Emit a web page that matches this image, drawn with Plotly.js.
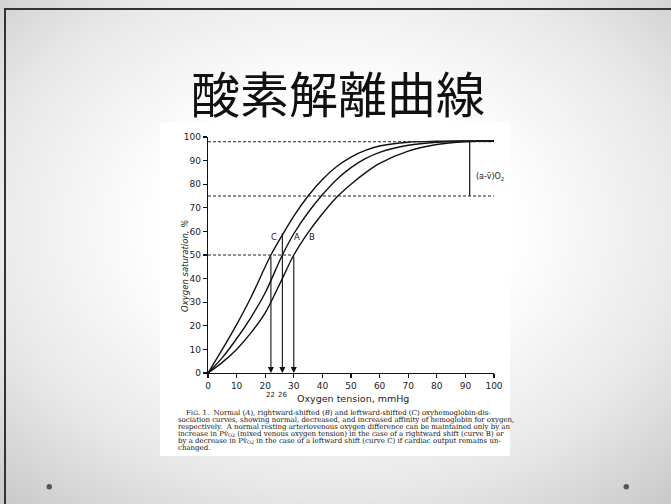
<!DOCTYPE html>
<html>
<head>
<meta charset="utf-8">
<script src="https://cdn.plot.ly/plotly-3.0.1.min.js"></script>
<style>
  html, body { margin: 0; padding: 0; }
  body {
    width: 671px; height: 504px; overflow: hidden; position: relative;
    background: radial-gradient(ellipse 75% 75% at 50% 45%, #ffffff 35%, #e8e8e8 70%, #c8c8c8 100%);
  }
  #frame {
    position: absolute; left: 4px; top: 8px; width: 700px; height: 520px;
    border-left: 2px solid #333; border-top: 2px solid #333; box-sizing: border-box;
  }
  #chart { position: absolute; left: 0; top: 0; width: 671px; height: 504px; }
</style>
</head>
<body>
<div id="frame"></div>
<div id="chart"></div>
<script>
// ---- data ----
const titleText = '酸素解離曲線';
const xTicks = [0, 10, 20, 30, 40, 50, 60, 70, 80, 90, 100];
const yTicks = [0, 10, 20, 30, 40, 50, 60, 70, 80, 90, 100];

const curveC_x = [0, 5, 10, 15, 20, 22, 26, 30, 35, 40, 45, 50, 55, 60, 70, 80, 90, 100];
const curveC_y = [0, 10, 20.5, 32, 45, 50, 58.5, 66.5, 75, 82, 87.5, 91.5, 94.3, 96.2, 97.8, 98.2, 98.3, 98.3];

const curveA_x = [0, 5, 10, 15, 20, 26, 30, 35, 40, 45, 50, 55, 60, 70, 80, 90, 100];
const curveA_y = [0, 6.5, 14.5, 23.5, 34, 50, 59, 68, 75.5, 82, 87, 90.8, 93.5, 96.5, 97.8, 98.2, 98.3];

const curveB_x = [0, 5, 10, 15, 20, 25, 30, 35, 40, 45, 50, 55, 60, 70, 80, 90, 100];
const curveB_y = [0, 4.5, 10, 17, 25.5, 37.5, 50, 59.5, 67.5, 74.5, 80, 84.8, 88.8, 94, 96.8, 98, 98.3];

const curveLabels = ['C', 'A', 'B'];
const labelX = [23, 31, 36.3];
const labelY = [57.7, 57.7, 57.7];

const p50Values = [22, 26, 30];          // arrows down to the axis
const p50ArrowTop = [50, 60, 50];        // where each vertical arrow starts
const p50Labels = ['22', '26'];

const arterialSat = 98;                  // upper dashed line
const venousSat = 75;                    // lower dashed line
const halfSat = 50;                      // P50 dashed line
const dashedEndX = 101;
const avDiffX = 91.5;
const avDiffLabel = '(a-v\u0304)O<sub>2</sub>';

const xTitle = 'Oxygen tension, mmHg';
const yTitle = '<i>Oxygen saturation, %</i>';

const captionLines = [
  'F<span style="font-size:6px">IG</span>. 1.  Normal (<i>A</i>), rightward-shifted (<i>B</i>) and leftward-shifted (<i>C</i>) oxyhemoglobin-dis-',
  'sociation curves, showing normal, decreased, and increased affinity of hemoglobin for oxygen,',
  'respectively.  A normal resting arteriovenous oxygen difference can be maintained only by an',
  'increase in Pv\u0304<sub>O2</sub> (mixed venous oxygen tension) in the case of a rightward shift (curve B) or',
  'by a decrease in Pv\u0304<sub>O2</sub> in the case of a leftward shift (curve C) if cardiac output remains un-',
  'changed.'
];

// ---- layout geometry (pixels of the 671x504 canvas) ----
const L = 208, T = 137, W = 286, H = 236, B = T + H;
const px2x = px => (px - L) / W;
const py2y = py => (B - py) / H;

const lineStyle = {color: '#111', width: 1.4, shape: 'spline', smoothing: 0.9};
const traces = [
  {x: curveC_x, y: curveC_y, mode: 'lines', line: lineStyle, hoverinfo: 'skip'},
  {x: curveA_x, y: curveA_y, mode: 'lines', line: lineStyle, hoverinfo: 'skip'},
  {x: curveB_x, y: curveB_y, mode: 'lines', line: lineStyle, hoverinfo: 'skip'}
];

const dash = {color: '#222', width: 1.1, dash: '3px,2px'};
const shapes = [
  // white scanned figure
  {type: 'rect', xref: 'paper', yref: 'paper', layer: 'below',
   x0: px2x(160), x1: px2x(510), y0: py2y(456), y1: py2y(123),
   fillcolor: '#ffffff', line: {width: 0}},
  {type: 'line', xref: 'x', yref: 'y', x0: 0, x1: dashedEndX, y0: arterialSat, y1: arterialSat, line: dash},
  {type: 'line', xref: 'x', yref: 'y', x0: 0, x1: dashedEndX, y0: venousSat, y1: venousSat, line: dash},
  {type: 'line', xref: 'x', yref: 'y', x0: 0, x1: p50Values[2], y0: halfSat, y1: halfSat, line: dash},
  {type: 'line', xref: 'x', yref: 'y', x0: avDiffX, x1: avDiffX, y0: venousSat, y1: arterialSat,
   line: {color: '#111', width: 1.2}},
  // slide bullet dots
  {type: 'circle', xref: 'paper', yref: 'paper', x0: px2x(46.5), x1: px2x(52), y0: py2y(489.5), y1: py2y(484),
   fillcolor: '#555', line: {width: 0}},
  {type: 'circle', xref: 'paper', yref: 'paper', x0: px2x(623.5), x1: px2x(629), y0: py2y(489.5), y1: py2y(484),
   fillcolor: '#555', line: {width: 0}}
];

const annotations = [];
annotations.push({text: titleText, xref: 'paper', yref: 'paper', x: px2x(338), y: py2y(91),
  xanchor: 'center', yanchor: 'middle', showarrow: false,
  font: {family: '"Noto Sans CJK JP", "Noto Sans CJK SC", sans-serif', size: 49, color: '#111'}});

annotations.push({text: xTitle, xref: 'paper', yref: 'paper', x: px2x(353), y: py2y(398),
  xanchor: 'center', yanchor: 'middle', showarrow: false,
  font: {family: 'DejaVu Sans', size: 9.5, color: '#222'}});
annotations.push({text: yTitle, xref: 'paper', yref: 'paper', x: px2x(185), y: py2y(266),
  xanchor: 'center', yanchor: 'middle', showarrow: false, textangle: -90,
  font: {family: 'DejaVu Sans', size: 8.5, color: '#222'}});

curveLabels.forEach((t, i) => annotations.push({text: t, x: labelX[i], y: labelY[i], xref: 'x', yref: 'y',
  showarrow: false, font: {family: 'DejaVu Sans', size: 8.5, color: '#222'}}));

p50Values.forEach((v, i) => annotations.push({x: v, y: 0, ax: v, ay: p50ArrowTop[i], xref: 'x', yref: 'y',
  axref: 'x', ayref: 'y', text: '', showarrow: true, arrowhead: 2, arrowsize: 1.1, arrowwidth: 1.1,
  arrowcolor: '#111', standoff: 0}));

p50Labels.forEach((t, i) => annotations.push({text: t, x: p50Values[i], y: py2y(394.5), xref: 'x', yref: 'paper',
  showarrow: false, xanchor: 'center', yanchor: 'middle', font: {family: 'DejaVu Sans', size: 7, color: '#222'}}));

annotations.push({text: avDiffLabel, xref: 'paper', yref: 'paper', x: px2x(474), y: py2y(177),
  xanchor: 'left', yanchor: 'middle', showarrow: false, font: {family: 'DejaVu Sans', size: 8, color: '#222'}});

captionLines.forEach((t, i) => annotations.push({text: t, xref: 'paper', yref: 'paper',
  x: px2x(i === 0 ? 184 : 176), y: py2y(413 + i * 7.0), xanchor: 'left', yanchor: 'middle', showarrow: false,
  font: {family: 'DejaVu Serif', size: 7, color: '#111'}}));

const axisCommon = {
  showgrid: false, zeroline: false, showline: true, linecolor: '#111', linewidth: 1.2,
  ticks: 'outside', ticklen: 4, tickwidth: 1.1, tickcolor: '#111',
  tickfont: {family: 'DejaVu Sans', size: 9, color: '#222'}, fixedrange: true
};

const layout = {
  width: 671, height: 504,
  margin: {l: L, r: 671 - L - W, t: T, b: 504 - B, pad: 0},
  paper_bgcolor: 'rgba(0,0,0,0)', plot_bgcolor: '#ffffff',
  showlegend: false,
  xaxis: Object.assign({}, axisCommon, {range: [0, 100], tickvals: xTicks, ticktext: xTicks.map(String)}),
  yaxis: Object.assign({}, axisCommon, {range: [0, 100], tickvals: yTicks, ticktext: yTicks.map(String), ticklabelstandoff: 0}),
  shapes: shapes, annotations: annotations
};

Plotly.newPlot('chart', traces, layout, {displayModeBar: false, staticPlot: true});
</script>
</body>
</html>
